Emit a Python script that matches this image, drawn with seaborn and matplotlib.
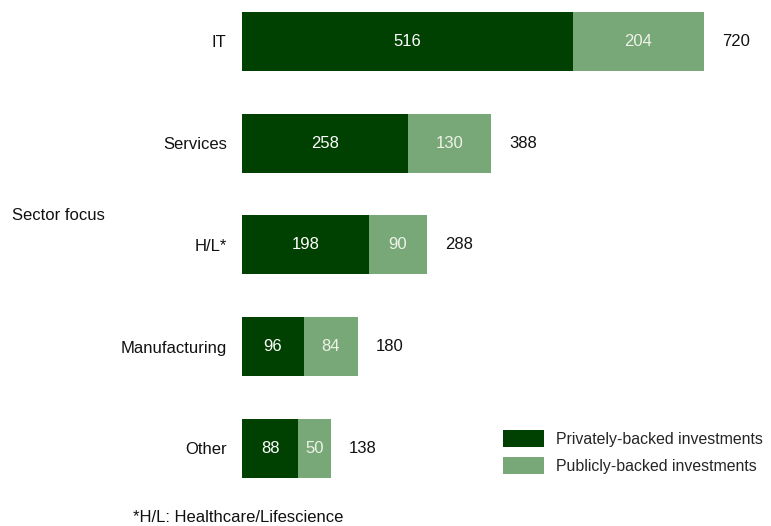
import matplotlib
matplotlib.use("Agg")
import matplotlib.pyplot as plt
from matplotlib.patches import Patch
import seaborn as sns
import pandas as pd

sectors = ["IT", "Services", "H/L*", "Manufacturing", "Other"]
private = [516, 258, 198, 96, 88]
public = [204, 130, 90, 84, 50]
totals = [p + q for p, q in zip(private, public)]

dark_green = "#004000"
light_green = "#78a878"

sns.set_theme(style="white")
plt.rcParams["font.family"] = ["Liberation Sans", "DejaVu Sans"]
FS = 12

df = pd.DataFrame({"sector": sectors, "private": private, "public": public, "total": totals})

fig = plt.figure(figsize=(7.71, 5.26), dpi=100)
ax = fig.add_axes([242 / 771, 0, 1 - 242 / 771, 1])

# total bar in light green, private share drawn on top in dark green
sns.barplot(data=df, x="total", y="sector", order=sectors, color=light_green,
            saturation=1, width=0.58, ax=ax, orient="h", linewidth=0)
sns.barplot(data=df, x="private", y="sector", order=sectors, color=dark_green,
            saturation=1, width=0.58, ax=ax, orient="h", linewidth=0)

for i in range(len(sectors)):
    ax.text(private[i] / 2, i, str(private[i]), ha="center", va="center",
            color="white", fontsize=FS)
    ax.text(private[i] + public[i] / 2, i, str(public[i]), ha="center", va="center",
            color="#eef3e8", fontsize=FS)
    ax.text(totals[i] + 28, i, str(totals[i]), ha="left", va="center",
            color="#111111", fontsize=FS)

ax.set_xlim(0, 824.4)
ax.set_ylim(4.764, -0.406)
ax.set_xlabel("")
ax.set_ylabel("")
ax.set_xticks([])
ax.tick_params(axis="y", length=0, pad=11, labelsize=FS, labelcolor="#111111")
for s in ax.spines.values():
    s.set_visible(False)

fig.text(12 / 771, 1 - 215 / 526, "Sector focus", ha="left", va="center",
         fontsize=FS, color="#111111")
fig.text(133 / 771, 1 - 517 / 526, "*H/L: Healthcare/Lifescience", ha="left", va="center",
         fontsize=FS, color="#111111")

handles = [Patch(facecolor=dark_green, edgecolor="none"),
           Patch(facecolor=light_green, edgecolor="none")]
fig.legend(handles, ["Privately-backed investments", "Publicly-backed investments"],
           loc="upper left", bbox_to_anchor=(497 / 771, 1 - 424 / 526),
           frameon=False, fontsize=11.4, handlelength=2.55, handleheight=1.27,
           handletextpad=0.75, labelspacing=0.6, borderaxespad=0)

fig.savefig("out.png", dpi=100)
